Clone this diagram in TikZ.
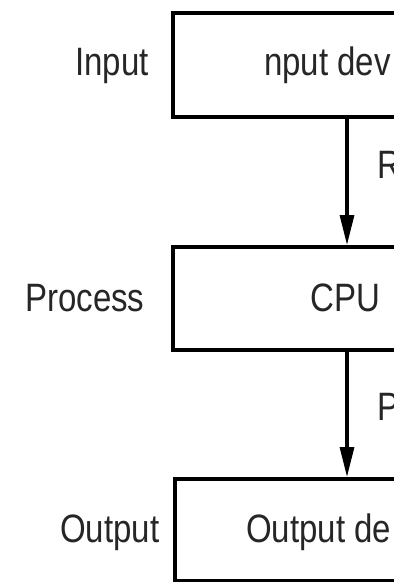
\documentclass[tikz,border=0pt]{standalone}
\usepackage{fontspec}
\setmainfont{Liberation Sans}
\usetikzlibrary{arrows.meta,calc}
\newcommand\stretchtxt[1]{\scalebox{1}[1.2]{#1}}
\begin{document}
\begin{tikzpicture}[x=1pt,y=-1pt,
  boxst/.style={draw=black,line width=3.6pt,minimum width=400pt,anchor=north west,inner sep=0pt},
  arr/.style={draw=black,line width=3.2pt,-{Triangle[length=30pt,width=14pt]}},
  lbl/.style={anchor=base west,inner sep=0pt,text=black!85,font=\fontsize{33}{36}\selectfont}]
\useasboundingbox (0,0) rectangle (394,582);
\clip (0,0) rectangle (394,582);
\fill[white] (0,0) rectangle (394,582);
\node[boxst,minimum height=104pt] (b1) at (171,11) {};
\node[boxst,minimum height=103pt] (b2) at (171,245) {};
\node[boxst,minimum height=102pt] (b3) at (173,477) {};
\coordinate (a1) at ([xshift=176pt]b1.south west);
\coordinate (a2) at ([xshift=176pt]b2.south west);
\draw[arr] (a1) -- (a1 |- b2.north);
\draw[arr] (a2) -- (a2 |- b3.north);
\node[lbl] (tin) at (75,75) {\stretchtxt{Input}};
\node[lbl] (tind) at (264,75) {\stretchtxt{nput dev}};
\node[lbl] (tpr) at (25,311) {\stretchtxt{Process}};
\node[lbl] (tcpu) at (310,311) {\stretchtxt{CPU}};
\node[lbl] (tout) at (60,542) {\stretchtxt{Output}};
\node[lbl] (toutd) at (246,542) {\stretchtxt{Output de}};
\node[lbl] (tr) at (377,178) {\stretchtxt{R}};
\node[lbl] (tp) at (377,420) {\stretchtxt{P}};
\end{tikzpicture}
\end{document}
